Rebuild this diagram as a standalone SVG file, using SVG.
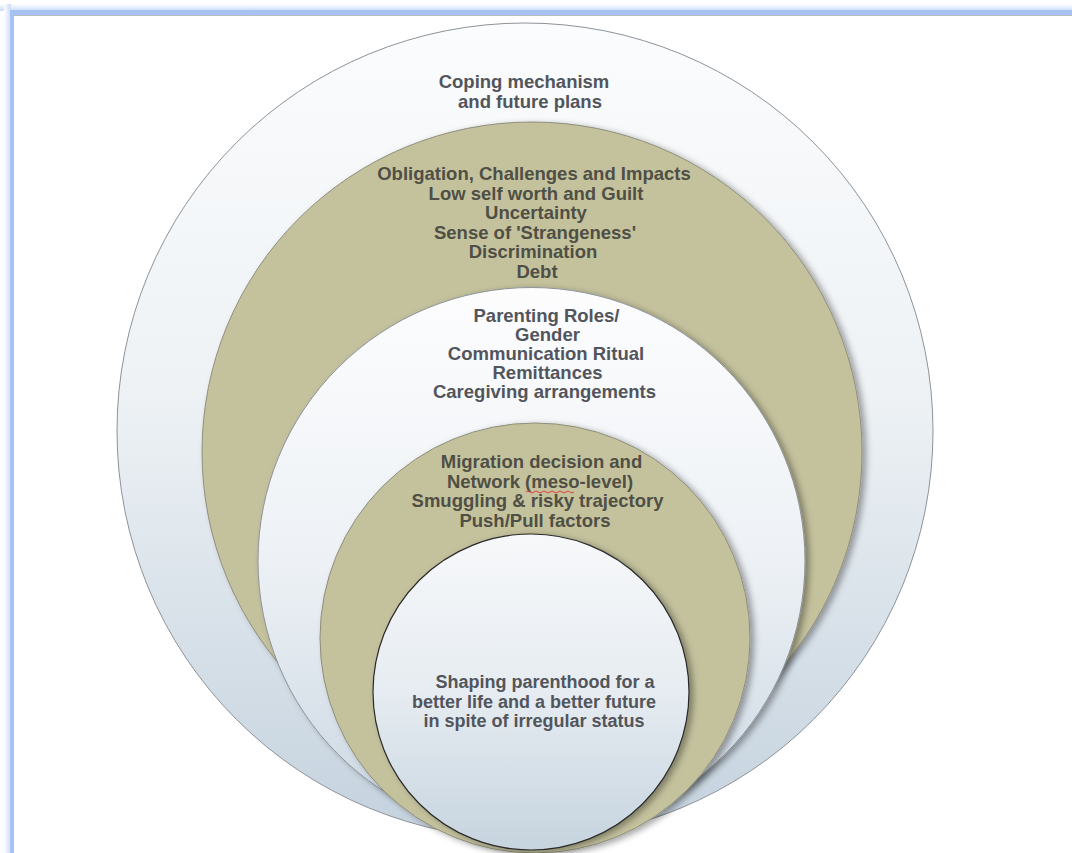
<svg xmlns="http://www.w3.org/2000/svg" width="1072" height="853" viewBox="0 0 1072 853">
<defs>
<style>
.t{font-family:"Liberation Sans",Arial,sans-serif;font-weight:bold;font-size:18.5px;text-anchor:middle}
.ts{font-size:18px}
.tw{fill:#52555c}
.to{fill:#4f4f45}
.olive{fill:#c4c29d;stroke:#8f8e7c;stroke-width:1}
.light{stroke:#8d9399;stroke-width:1}
</style>
<linearGradient id="gOuter" x1="0" y1="0" x2="0" y2="1">
<stop offset="0" stop-color="#fbfcfd"/>
<stop offset="0.45" stop-color="#eef2f5"/>
<stop offset="1" stop-color="#c4d2de"/>
</linearGradient>
<linearGradient id="gMid" x1="0" y1="0" x2="0" y2="1">
<stop offset="0" stop-color="#fdfdfe"/>
<stop offset="0.5" stop-color="#edf1f5"/>
<stop offset="1" stop-color="#c9d6e1"/>
</linearGradient>
<linearGradient id="gInner" x1="0" y1="0" x2="0" y2="1">
<stop offset="0" stop-color="#f7f8fa"/>
<stop offset="0.5" stop-color="#e6ecf1"/>
<stop offset="1" stop-color="#c6d4df"/>
</linearGradient>
<linearGradient id="gTop" x1="0" y1="0" x2="0" y2="1">
<stop offset="0" stop-color="#ffffff"/>
<stop offset="1" stop-color="#c9dbf7"/>
</linearGradient>
<linearGradient id="gLeft" x1="0" y1="0" x2="1" y2="0">
<stop offset="0" stop-color="#ffffff"/>
<stop offset="1" stop-color="#c9dbf7"/>
</linearGradient>
<filter id="sh" x="-10%" y="-10%" width="125%" height="125%">
<feDropShadow dx="4" dy="2" stdDeviation="3" flood-color="#000" flood-opacity="0.35"/>
</filter>
</defs>
<rect width="1072" height="853" fill="#ffffff"/>
<g id="frame">
<rect x="0" y="4" width="1072" height="7" fill="url(#gTop)"/>
<rect x="4" y="4" width="7" height="849" fill="url(#gLeft)"/>
<rect x="10" y="10" width="1062" height="5" fill="#a6c3f3"/>
<rect x="10" y="10" width="4" height="843" fill="#a6c3f3"/>
<rect x="14" y="15" width="1058" height="1" fill="#b8bcc2"/>
</g>
<g id="connectors"/>
<g id="coping">
<circle cx="525" cy="431" r="408" fill="url(#gOuter)" class="light"/>
<text class="t tw" x="524" y="88">Coping mechanism</text>
<text class="t tw" x="530" y="108">and future plans</text>
</g>
<g id="obligation">
<circle cx="532" cy="452" r="330" class="olive" filter="url(#sh)"/>
<text class="t to" x="534" y="180">Obligation, Challenges and Impacts</text>
<text class="t to" x="536" y="199.5">Low self worth and Guilt</text>
<text class="t to" x="536" y="219">Uncertainty</text>
<text class="t to" x="535" y="238.5">Sense of 'Strangeness'</text>
<text class="t to" x="533" y="258">Discrimination</text>
<text class="t to" x="537" y="277.5">Debt</text>
</g>
<g id="parenting">
<circle cx="531.5" cy="561" r="273.5" fill="url(#gMid)" class="light" filter="url(#sh)"/>
<text class="t tw" x="546.5" y="322">Parenting Roles/</text>
<text class="t tw" x="547.5" y="341">Gender</text>
<text class="t tw" x="546" y="360">Communication Ritual</text>
<text class="t tw" x="547.5" y="379">Remittances</text>
<text class="t tw" x="544.5" y="398">Caregiving arrangements</text>
</g>
<g id="migration">
<circle cx="535" cy="638" r="215" class="olive" filter="url(#sh)"/>
<text class="t to" x="541.5" y="468">Migration decision and</text>
<text class="t to" x="540" y="488">Network (meso-level)</text>
<path d="M526,492 q2,-2 4,0 t4,0 t4,0 t4,0 t4,0 t4,0 t4,0 t4,0 t4,0 t4,0 t4,0 t4,0" fill="none" stroke="#e04040" stroke-width="1"/>
<text class="t to" x="537.5" y="507">Smuggling &amp; risky trajectory</text>
<text class="t to" x="535" y="527">Push/Pull factors</text>
</g>
<g id="shaping">
<circle cx="531" cy="692" r="158" fill="url(#gInner)" stroke="#2b2b2b" stroke-width="1.2" filter="url(#sh)"/>
<text class="t ts tw" x="545" y="688">Shaping parenthood for a</text>
<text class="t ts tw" x="534" y="707.5">better life and a better future</text>
<text class="t ts tw" x="534" y="727">in spite of irregular status</text>
</g>
</svg>
